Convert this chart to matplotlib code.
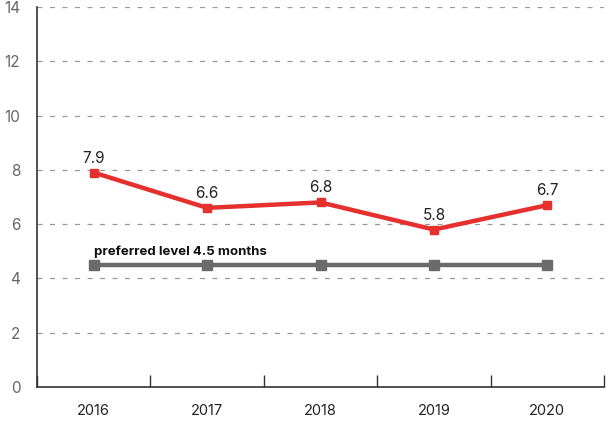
import matplotlib
matplotlib.use("Agg")
import matplotlib.pyplot as plt
from matplotlib.ticker import FixedLocator

plt.rcParams['font.family'] = ['Inter', 'DejaVu Sans']

years = ["2016", "2017", "2018", "2019", "2020"]
actual = [7.9, 6.6, 6.8, 5.8, 6.7]
preferred = [4.5, 4.5, 4.5, 4.5, 4.5]
pref_label = "preferred level 4.5 months"
yticks = [0, 2, 4, 6, 8, 10, 12, 14]

fig = plt.figure(figsize=(6.08, 4.23), dpi=100)
ax = fig.add_axes([37/608, 1-387/423, (604-37)/608, (387-7)/423])

x = list(range(len(years)))
ax.set_xlim(-0.5, len(years)-0.5)
ax.set_ylim(0, 14)

for y in yticks[1:]:
    ax.axhline(y, color='#999999', lw=0.9, ls=(0, (4, 6)), zorder=0)

ax.plot(x, preferred, color='#6b6b6b', lw=3.2, marker='s', ms=6.5, zorder=3)
ax.plot(x, actual, color='#e5302d', lw=3.2, marker='s', ms=6, zorder=4)

for xi, v in zip(x, actual):
    ax.annotate(f"{v}", (xi, v), xytext=(0, 5), textcoords='offset points',
                ha='center', va='bottom', fontsize=11, color='#222222')

ax.annotate(pref_label, (x[0], preferred[0]), xytext=(0, 5), textcoords='offset points',
            ha='left', va='bottom', fontsize=9.5, fontweight='bold', color='#111111')

ax.set_yticks(yticks)
ax.set_yticklabels([str(t) for t in yticks], color='#666666', fontsize=11)
ax.tick_params(axis='y', length=0, pad=12)

ax.set_xticks(x)
ax.set_xticklabels(years, fontsize=10.5, color='#222222')
ax.tick_params(axis='x', which='major', length=0, pad=12)
ax.xaxis.set_minor_locator(FixedLocator([i - 0.5 for i in range(len(years)+1)]))
ax.tick_params(axis='x', which='minor', direction='in', length=9, width=1, color='#333333')

for s in ['top', 'right']:
    ax.spines[s].set_visible(False)
for s in ['left', 'bottom']:
    ax.spines[s].set_color('#333333')
    ax.spines[s].set_linewidth(1.2)

fig.savefig("out.png", dpi=100)
